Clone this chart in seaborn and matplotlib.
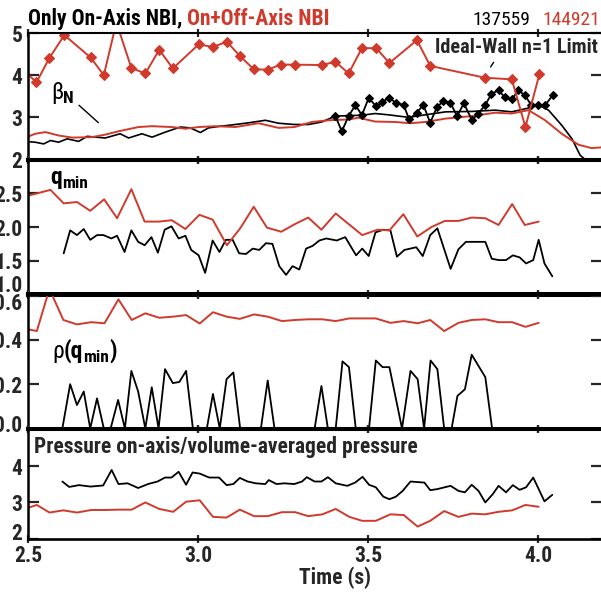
import numpy as np
import pandas as pd
import seaborn as sns
import matplotlib
matplotlib.use("Agg")
import matplotlib.pyplot as plt
from matplotlib import font_manager
from matplotlib.font_manager import FontProperties
from matplotlib.transforms import ScaledTranslation

# ---------------- data ----------------
# beta_N panel: ideal-wall n=1 limit (diamonds) and measured beta_N
lim_off_t = [2.484, 2.525, 2.563, 2.607, 2.684, 2.723, 2.760, 2.804, 2.845, 2.886, 2.926,
             3.002, 3.043, 3.085, 3.124, 3.164, 3.205, 3.243, 3.284, 3.365, 3.404, 3.443,
             3.482, 3.524, 3.563, 3.644, 3.683, 3.843, 3.923, 3.963, 4.004]
lim_off_v = [4.14, 3.83, 4.41, 4.95, 4.42, 4.00, 5.25, 4.17, 4.04, 4.60, 4.16,
             4.73, 4.67, 4.79, 4.45, 4.14, 4.13, 4.25, 4.25, 4.24, 4.32, 4.04,
             4.64, 4.64, 4.29, 4.83, 4.22, 3.94, 3.90, 2.77, 4.02]

lim_on_t = [3.404, 3.423, 3.443, 3.463, 3.482, 3.502, 3.524, 3.541, 3.561, 3.582, 3.605,
            3.621, 3.643, 3.663, 3.683, 3.703, 3.722, 3.742, 3.762, 3.782, 3.806, 3.824,
            3.845, 3.863, 3.884, 3.902, 3.923, 3.942, 3.962, 3.980, 4.000, 4.021, 4.043]
lim_on_v = [3.03, 2.67, 3.03, 3.29, 3.05, 3.46, 3.26, 3.36, 3.46, 3.35, 3.29,
            2.95, 3.11, 3.29, 2.87, 3.25, 3.38, 3.35, 3.03, 3.33, 2.93, 3.09,
            3.29, 3.56, 3.64, 3.48, 3.43, 3.64, 3.52, 3.29, 3.30, 3.29, 3.52]

betan_off_t = [2.49, 2.521, 2.551, 2.59, 2.629, 2.688, 2.727, 2.767, 2.825, 2.865, 2.923,
               2.963, 3.002, 3.051, 3.11, 3.178, 3.237, 3.284, 3.335, 3.384, 3.443, 3.472,
               3.521, 3.58, 3.624, 3.669, 3.728, 3.806, 3.874, 3.923, 3.972, 4.021, 4.07,
               4.119, 4.158, 4.19]
betan_off_v = [2.51, 2.61, 2.65, 2.57, 2.52, 2.53, 2.59, 2.67, 2.77, 2.79, 2.77,
               2.73, 2.77, 2.79, 2.77, 2.86, 2.75, 2.77, 2.89, 2.93, 2.95, 2.99,
               2.90, 2.89, 2.86, 2.89, 2.97, 3.03, 3.11, 3.09, 3.17, 2.93, 2.61,
               2.35, 2.27, 2.29]

betan_on_t = [2.49, 2.521, 2.546, 2.566, 2.59, 2.615, 2.649, 2.674, 2.727, 2.771, 2.796,
              2.835, 2.865, 2.904, 2.948, 2.977, 3.007, 3.031, 3.066, 3.09, 3.149, 3.198,
              3.237, 3.284, 3.325, 3.364, 3.404, 3.482, 3.521, 3.56, 3.619, 3.669, 3.728,
              3.806, 3.874, 3.923, 3.972, 4.002, 4.031, 4.07, 4.1, 4.124, 4.139, 4.19]
betan_on_v = [2.43, 2.41, 2.37, 2.45, 2.41, 2.49, 2.43, 2.55, 2.51, 2.61, 2.51,
              2.61, 2.53, 2.65, 2.77, 2.75, 2.64, 2.75, 2.79, 2.81, 2.87, 2.93,
              2.86, 2.83, 2.83, 2.89, 3.03, 3.05, 3.09, 3.06, 3.00, 3.06, 3.13,
              3.14, 3.17, 3.13, 3.22, 3.29, 3.17, 2.81, 2.49, 2.10, 2.00, 1.95]

# q_min panel
qmin_off_t = [2.49, 2.566, 2.605, 2.644, 2.683, 2.724, 2.762, 2.804, 2.843, 2.884, 2.923,
              2.963, 3.004, 3.043, 3.085, 3.124, 3.164, 3.203, 3.245, 3.284, 3.324, 3.363,
              3.405, 3.483, 3.528, 3.563, 3.604, 3.645, 3.687, 3.726, 3.766, 3.805, 3.845,
              3.884, 3.924, 3.961, 4.002]
qmin_off_v = [2.45, 2.55, 2.35, 2.37, 2.24, 2.41, 2.13, 2.56, 2.08, 2.08, 2.10,
              1.97, 2.18, 2.11, 1.73, 1.98, 2.30, 1.99, 1.93, 2.04, 2.14, 1.96,
              2.20, 1.88, 1.96, 1.95, 2.19, 1.86, 2.00, 2.09, 2.09, 2.14, 2.13,
              2.03, 2.34, 2.03, 2.08]

qmin_on_t = [2.605, 2.624, 2.644, 2.664, 2.683, 2.703, 2.722, 2.745, 2.762, 2.784, 2.804,
             2.824, 2.843, 2.863, 2.882, 2.902, 2.922, 2.943, 2.963, 2.980, 3.002, 3.021,
             3.043, 3.063, 3.082, 3.102, 3.121, 3.141, 3.161, 3.180, 3.200, 3.219, 3.239,
             3.259, 3.278, 3.298, 3.318, 3.337, 3.357, 3.377, 3.408, 3.433, 3.465, 3.483,
             3.502, 3.522, 3.545, 3.566, 3.585, 3.607, 3.642, 3.661, 3.683, 3.704, 3.743,
             3.766, 3.788, 3.845, 3.864, 3.884, 3.906, 3.926, 3.946, 3.965, 3.986, 4.002,
             4.019, 4.042]
qmin_on_v = [1.61, 1.95, 1.88, 1.97, 1.81, 1.88, 1.88, 1.83, 1.87, 1.63, 1.95,
             1.78, 1.73, 1.85, 1.62, 1.96, 2.01, 1.83, 1.87, 1.66, 1.58, 1.32,
             1.80, 1.63, 1.81, 1.81, 1.61, 1.60, 1.68, 1.66, 1.76, 1.75, 1.42,
             1.29, 1.42, 1.37, 1.68, 1.72, 1.80, 1.83, 1.80, 1.85, 1.58, 1.68,
             1.57, 1.92, 1.96, 1.95, 1.56, 1.66, 1.70, 1.57, 1.88, 1.98, 1.38,
             1.67, 1.78, 1.78, 1.53, 1.51, 1.51, 1.58, 1.55, 1.46, 1.51, 1.81,
             1.46, 1.27]

# rho(q_min) panel
rho_off_t = [2.49, 2.503, 2.526, 2.563, 2.604, 2.644, 2.686, 2.725, 2.766, 2.805, 2.845,
             2.886, 2.927, 2.965, 3.005, 3.044, 3.084, 3.123, 3.165, 3.205, 3.247, 3.286,
             3.324, 3.366, 3.405, 3.445, 3.483, 3.523, 3.566, 3.605, 3.646, 3.683, 3.724,
             3.766, 3.805, 3.845, 3.884, 3.924, 3.963, 4.002]
rho_off_v = [0.45, 0.447, 0.440, 0.630, 0.490, 0.470, 0.480, 0.475, 0.583, 0.490, 0.520,
             0.500, 0.505, 0.512, 0.474, 0.525, 0.505, 0.495, 0.515, 0.505, 0.485, 0.490,
             0.493, 0.493, 0.485, 0.497, 0.497, 0.497, 0.477, 0.485, 0.475, 0.490, 0.440,
             0.477, 0.490, 0.493, 0.480, 0.480, 0.459, 0.477]

rho_on_t = [2.601, 2.624, 2.644, 2.664, 2.683, 2.703, 2.723, 2.743, 2.765, 2.785, 2.804,
            2.824, 2.845, 2.864, 2.884, 2.903, 2.926, 2.945, 2.965, 2.985, 3.026, 3.044,
            3.064, 3.084, 3.104, 3.124, 3.185, 3.205, 3.225, 3.343, 3.363, 3.382, 3.405,
            3.425, 3.444, 3.464, 3.503, 3.523, 3.543, 3.563, 3.600, 3.625, 3.646, 3.665,
            3.684, 3.704, 3.724, 3.746, 3.763, 3.785, 3.805, 3.845, 3.865]
rho_on_v = [0.0, 0.200, 0.106, 0.167, 0.0, 0.136, 0.0, 0.0, 0.129, 0.0, 0.260,
            0.167, 0.0, 0.186, 0.0, 0.268, 0.205, 0.210, 0.260, 0.0, 0.0, 0.156,
            0.0, 0.223, 0.253, 0.0, 0.0, 0.217, 0.0, 0.0, 0.192, 0.0, 0.0,
            0.303, 0.277, 0.0, 0.0, 0.307, 0.277, 0.277, 0.0, 0.260, 0.223, 0.0,
            0.307, 0.268, 0.0, 0.0, 0.147, 0.177, 0.333, 0.232, 0.0]

# pressure peaking panel
pk_on_t = [2.601, 2.621, 2.650, 2.684, 2.721, 2.746, 2.766, 2.793, 2.824, 2.853, 2.881,
           2.903, 2.922, 2.943, 2.965, 2.984, 3.005, 3.033, 3.062, 3.084, 3.104, 3.123,
           3.146, 3.170, 3.198, 3.208, 3.231, 3.254, 3.283, 3.306, 3.320, 3.343, 3.363,
           3.382, 3.405, 3.439, 3.462, 3.484, 3.503, 3.523, 3.545, 3.563, 3.582, 3.602,
           3.625, 3.666, 3.683, 3.704, 3.743, 3.766, 3.785, 3.805, 3.825, 3.845, 3.867,
           3.884, 3.906, 3.926, 3.946, 3.965, 3.986, 4.002, 4.019, 4.042]
pk_on_v = [3.58, 3.43, 3.48, 3.44, 3.47, 3.90, 3.51, 3.53, 3.40, 3.51, 3.58,
           3.69, 3.69, 3.85, 3.49, 3.83, 3.80, 3.69, 3.69, 3.48, 3.51, 3.68,
           3.58, 3.53, 3.51, 3.62, 3.51, 3.53, 3.51, 3.58, 3.70, 3.58, 3.58,
           3.70, 3.53, 3.46, 3.55, 3.71, 3.49, 3.42, 3.16, 3.09, 3.16, 3.32,
           3.58, 3.55, 3.34, 3.37, 3.46, 3.32, 3.28, 3.49, 3.32, 3.00, 3.23,
           3.46, 3.28, 3.48, 3.35, 3.42, 3.69, 3.37, 3.03, 3.21]

pk_off_t = [2.49, 2.503, 2.526, 2.563, 2.604, 2.644, 2.686, 2.725, 2.766, 2.805, 2.845,
            2.886, 2.927, 2.965, 3.005, 3.044, 3.084, 3.123, 3.165, 3.205, 3.247, 3.286,
            3.324, 3.366, 3.405, 3.445, 3.483, 3.523, 3.566, 3.605, 3.646, 3.683, 3.724,
            3.766, 3.805, 3.845, 3.884, 3.924, 3.963, 4.002]
pk_off_v = [2.86, 2.86, 2.93, 2.72, 2.78, 2.72, 2.79, 2.79, 2.80, 2.80, 3.00,
            2.82, 2.74, 3.02, 3.06, 2.60, 2.58, 2.80, 2.62, 2.62, 2.73, 2.73,
            2.62, 2.67, 2.82, 2.60, 2.49, 2.49, 2.67, 2.65, 2.33, 2.49, 2.76,
            2.60, 2.69, 2.67, 2.74, 2.78, 2.93, 2.88]

panel_ylims = [(2, 5), (1.0, 3.0), (0.0, 0.605), (2, 5.05)]
panel_yticks = [[2, 3, 4, 5], [1.0, 1.5, 2.0, 2.5], [0.0, 0.2, 0.4, 0.6], [2, 3, 4]]
panel_yticklabels = [["2", "3", "4", "5"], ["1.0", "1.5", "2.0", "2.5"],
                     ["0.0", "0.2", "0.4", "0.6"], ["2", "3", "4"]]
xticks = [2.5, 3.0, 3.5, 4.0]
xticklabels = ["2.5", "3.0", "3.5", "4.0"]

# ---------------- style ----------------
sns.set_style("ticks")


def pick_font(bold):
    """Find a narrow sans face (file path) if one is installed."""
    prefs = [("Liberation Sans Narrow", None), ("Roboto Condensed", None),
             ("Open Sans Condensed", None), ("DejaVu Sans", "condensed"),
             ("Noto Sans", "condensed"), ("Open Sans", "condensed"),
             ("Noto Sans", "semi-condensed"), ("Open Sans", "semi-condensed")]
    fl = font_manager.fontManager.ttflist
    for name, stretch in prefs:
        for f in fl:
            if f.name != name or f.style != "normal":
                continue
            if stretch is not None and f.stretch != stretch:
                continue
            w = f.weight if isinstance(f.weight, int) else (700 if "bold" in str(f.weight) else 400)
            if bold and w >= 600 or (not bold and w < 600):
                return f.fname
    return None


BOLD_PATH = pick_font(True)
REG_PATH = pick_font(False)
FS = 15.5
if BOLD_PATH:
    FP_B = FontProperties(fname=BOLD_PATH, size=FS)
    FP_R = FontProperties(fname=REG_PATH, size=FS) if REG_PATH else FontProperties(fname=BOLD_PATH, size=FS)
else:
    FS = 12.5
    FP_B = FontProperties(family="Liberation Sans", weight="bold", size=FS)
    FP_R = FontProperties(family="Liberation Sans", weight="normal", size=FS)
plt.rcParams["font.family"] = ["Liberation Sans", "DejaVu Sans"]


def fp(bold=True, size=None):
    p = (FP_B if bold else FP_R).copy()
    if size is not None:
        p.set_size(size)
    return p


RED = "#d03a2c"
BLACK = "#000000"

W_PX, H_PX = 601, 593
fig = plt.figure(figsize=(W_PX / 100, H_PX / 100), dpi=100)
fig.patch.set_facecolor("white")

LEFT, RIGHT = 28, 602
XMIN = 2.5
XMAX = 2.5 + (RIGHT - LEFT) / 340.0
bounds = [(33, 159.5), (159.5, 294.5), (294.5, 428.5), (428.5, 538.5)]

axes = []
for (top, bot) in bounds:
    ax = fig.add_axes([LEFT / W_PX, 1 - bot / H_PX, (RIGHT - LEFT) / W_PX, (bot - top) / H_PX])
    axes.append(ax)


def draw(ax, t, v, color, lw, marker=None, ms=0):
    df = pd.DataFrame({"t": t, "v": v})
    kw = {}
    if marker:
        kw = dict(marker=marker, markersize=ms, markeredgecolor=color,
                  markerfacecolor=color, markeredgewidth=0.8)
    sns.lineplot(data=df, x="t", y="v", ax=ax, color=color, lw=lw,
                 sort=False, estimator=None, legend=False, **kw)


# beta_N panel
draw(axes[0], betan_on_t, betan_on_v, BLACK, 1.2)
draw(axes[0], betan_off_t, betan_off_v, RED, 1.4)
draw(axes[0], lim_on_t, lim_on_v, BLACK, 1.3, "D", 4.4)
draw(axes[0], lim_off_t, lim_off_v, RED, 1.4, "D", 5.0)
# q_min panel
draw(axes[1], qmin_on_t, qmin_on_v, BLACK, 1.3)
draw(axes[1], qmin_off_t, qmin_off_v, RED, 1.4)
# rho(q_min) panel
draw(axes[2], rho_on_t, rho_on_v, BLACK, 1.3)
draw(axes[2], rho_off_t, rho_off_v, RED, 1.4)
# pressure peaking panel
draw(axes[3], pk_on_t, pk_on_v, BLACK, 1.3)
draw(axes[3], pk_off_t, pk_off_v, RED, 1.4)

# vertical shifts (pixels, positive = up) for crowded labels at panel edges
label_nudge = {(1, 0): 9, (2, 3): -8, (2, 0): 3, (3, 0): 5}
PAD_PX = 5.5

for i, ax in enumerate(axes):
    ax.set_xlim(XMIN, XMAX)
    ax.set_ylim(*panel_ylims[i])
    ax.set_yticks(panel_yticks[i])
    labels = [("" if (i, j) in label_nudge else s) for j, s in enumerate(panel_yticklabels[i])]
    ax.set_yticklabels(labels)
    for j, s in enumerate(panel_yticklabels[i]):
        if (i, j) in label_nudge:
            tr = ax.get_yaxis_transform() + ScaledTranslation(
                -PAD_PX / 100, label_nudge[(i, j)] / 100, fig.dpi_scale_trans)
            ax.text(0, panel_yticks[i][j], s, transform=tr, ha="right", va="center",
                    fontproperties=fp(True), clip_on=False)
    ax.set_xticks(xticks)
    if i == 3:
        ax.set_xticklabels(xticklabels)
    else:
        ax.set_xticklabels([])
    for lab in ax.get_yticklabels() + ax.get_xticklabels():
        lab.set_fontproperties(fp(True))
    ax.set_xlabel("")
    ax.set_ylabel("")
    ax.tick_params(axis="y", which="both", direction="in", length=8, width=1.6,
                   left=True, right=True, labelleft=True, labelright=False, pad=4)
    ax.tick_params(axis="x", which="both", direction="inout", length=6, width=1.6,
                   top=True, bottom=True, pad=2)
    ax.patch.set_alpha(0)
    for s in ax.spines.values():
        s.set_visible(True)
        s.set_color("black")
    ax.spines["left"].set_linewidth(1.8)
    ax.spines["right"].set_linewidth(1.8)
    ax.spines["top"].set_linewidth(1.5 if i == 0 else 2.9)
    ax.spines["bottom"].set_linewidth(2.9 if i < 3 else 1.9)


def ftext(px, py, s, bold=True, size=None, **kw):
    return fig.text(px / W_PX, 1 - py / H_PX, s, fontproperties=fp(bold, size), **kw)


renderer = fig.canvas.get_renderer()


def chain(px, py, parts, **kw):
    """Draw consecutive text pieces: (text, bold, size, dy_px, color)."""
    x = px
    for s, bold, size, dy, color in parts:
        t = ftext(x, py - dy, s, bold=bold, size=size, ha="left", va="baseline",
                  color=color, **kw)
        bb = t.get_window_extent(renderer)
        x += bb.width
    return x


# header
chain(28, 25, [("Only On-Axis NBI, ", True, None, 0, BLACK),
               ("On+Off-Axis NBI", True, None, 0, RED)])
ftext(530, 25, "137559", bold=False, size=14, color=BLACK, ha="right", va="baseline")
ftext(600, 25, "144921", bold=False, size=14, color=RED, ha="right", va="baseline")

# panel labels
ftext(598, 53, "Ideal-Wall n=1 Limit", size=14.6, ha="right", va="baseline")
chain(51, 99, [("β", False, 17, 0, BLACK), ("N", True, 12.5, -4, BLACK)])
chain(50, 184, [("q", True, 17, 0, BLACK), ("min", True, 12.5, -4, BLACK)])
chain(52, 358, [("ρ", False, 17, 0, BLACK), ("(q", True, 17, 0, BLACK),
                ("min", True, 12.5, -4, BLACK), (")", True, 17, 0, BLACK)])
ftext(34, 453, "Pressure on-axis/volume-averaged pressure", ha="left", va="baseline")
ftext(335, 584, "Time (s)", ha="center", va="baseline")

# leader lines
axes[0].annotate("", xy=(2.713, 2.83), xytext=(2.644, 3.33),
                 arrowprops=dict(arrowstyle="-", color="black", lw=1.0))
axes[0].annotate("", xy=(3.856, 4.14), xytext=(3.874, 4.36),
                 arrowprops=dict(arrowstyle="-", color="black", lw=1.0))

fig.savefig("out.png", dpi=100, facecolor="white")
